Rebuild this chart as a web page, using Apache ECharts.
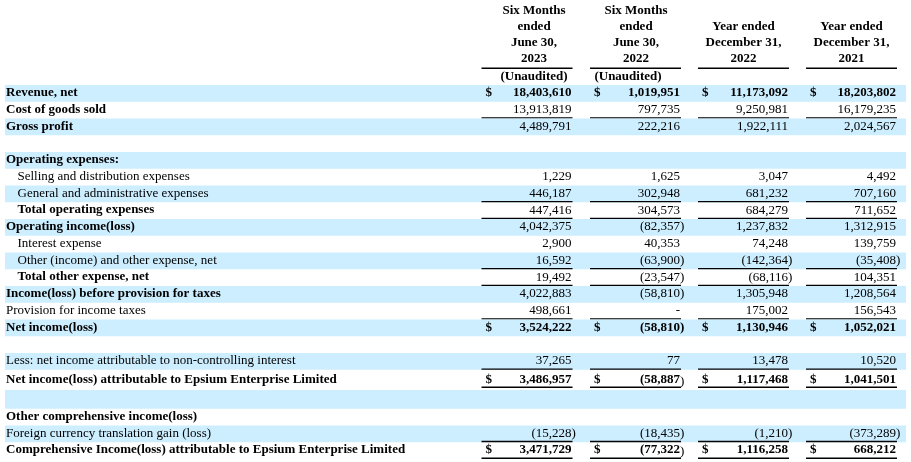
<!DOCTYPE html>
<html>
<head>
<meta charset="utf-8">
<script src="https://cdn.jsdelivr.net/npm/echarts@6/dist/echarts.min.js"></script>
<style>
  html, body { margin: 0; padding: 0; background: #fff; }
  #chart { width: 911px; height: 462px; }
</style>
</head>
<body>
<div id="chart"></div>
<script>
// statement lines
const rowLabels = [
  'Revenue, net',
  'Cost of goods sold',
  'Gross profit',
  '',
  'Operating expenses:',
  'Selling and distribution expenses',
  'General and administrative expenses',
  'Total operating expenses',
  'Operating income(loss)',
  'Interest expense',
  'Other (income) and other expense, net',
  'Total other expense, net',
  'Income(loss) before provision for taxes',
  'Provision for income taxes',
  'Net income(loss)',
  '',
  'Less: net income attributable to non-controlling interest',
  'Net income(loss) attributable to Epsium Enterprise Limited',
  '',
  'Other comprehensive income(loss)',
  'Foreign currency translation gain (loss)',
  'Comprehensive Income(loss) attributable to Epsium Enterprise Limited'
];

const columnHeaders = [
  ['Six Months', 'ended', 'June 30,', '2023'],
  ['Six Months', 'ended', 'June 30,', '2022'],
  ['Year ended', 'December 31,', '2022'],
  ['Year ended', 'December 31,', '2021']
];
const columnNotes = ['(Unaudited)', '(Unaudited)', '', ''];

// null = empty cell, 0 = dash
const sixMonths2023 = [18403610, 13913819, 4489791, null, null, 1229, 446187, 447416, 4042375, 2900, 16592, 19492, 4022883, 498661, 3524222, null, 37265, 3486957, null, null, -15228, 3471729];
const sixMonths2022 = [1019951, 797735, 222216, null, null, 1625, 302948, 304573, -82357, 40353, -63900, -23547, -58810, 0, -58810, null, 77, -58887, null, null, -18435, -77322];
const year2022 = [11173092, 9250981, 1922111, null, null, 3047, 681232, 684279, 1237832, 74248, -142364, -68116, 1305948, 175002, 1130946, null, 13478, 1117468, null, null, -1210, 1116258];
const year2021 = [18203802, 16179235, 2024567, null, null, 4492, 707160, 711652, 1312915, 139759, -35408, 104351, 1208564, 156543, 1052021, null, 10520, 1041501, null, null, -373289, 668212];
const columns = [sixMonths2023, sixMonths2022, year2022, year2021];

// formatting of the statement
const boldLabelRows = [0, 1, 2, 4, 7, 8, 11, 12, 14, 17, 19, 21];
const indentRows = [5, 6, 7, 9, 10, 11];
const totalRows = [0, 14, 17, 21];           // bold with $ sign
const ruleBelow = [0, 1, 0, 0, 0, 0, 1, 1, 0, 0, 1, 1, 0, 1, 0, 0, 1, 2, 0, 0, 1, 1];

// layout
const font = '"Liberation Serif", "Times New Roman", serif';
const bandColor = '#cceeff';
const textColor = '#000';
const tableTop = 85;
const colRight = [571.5, 680, 788, 896];
const headerCenter = [534, 636, 743.5, 851.5];
const noteCenter = [534, 628, 0, 0];

const rowHeights = rowLabels.map((_, i) =>
  16.75 + (ruleBelow[i] === 2 ? 3.4 : 0) + (ruleBelow[i - 1] === 2 ? 2 : 0));
const rowData = [];
let y = tableTop;
rowLabels.forEach((_, i) => {
  rowData.push([i, y, y + rowHeights[i]]);
  y += rowHeights[i];
});

function fmt(v) {
  if (v === 0) return '-';
  const s = Math.abs(v).toLocaleString('en-US');
  return v < 0 ? '(' + s : s;
}

function textEl(x, y, text, weight, align) {
  return {
    type: 'text', x: x, y: y,
    style: {
      text: text, fill: textColor, align: align, verticalAlign: 'middle',
      fontFamily: font, fontSize: 13, fontWeight: weight
    }
  };
}

function ruleEl(x1, x2, y) {
  return {
    type: 'line',
    shape: { x1: x1, y1: y, x2: x2, y2: y },
    style: { stroke: '#000', lineWidth: 1.4 }
  };
}

function renderRow(params, api) {
  const i = api.value(0);
  const top = api.coord([0, api.value(1)])[1];
  const bottom = api.coord([0, api.value(2)])[1];
  const X = (v) => api.coord([v, 0])[0];
  const mid = (top + bottom) / 2 - 0.5;
  const children = [];

  if (i % 2 === 0) {
    children.push({
      type: 'rect',
      shape: { x: X(5), y: top, width: X(906) - X(5), height: bottom - top },
      style: { fill: bandColor }
    });
  }

  const labelBold = boldLabelRows.indexOf(i) >= 0 ? 'bold' : 'normal';
  const labelX = indentRows.indexOf(i) >= 0 ? X(17.5) : X(6);
  if (rowLabels[i]) children.push(textEl(labelX, mid, rowLabels[i], labelBold, 'left'));

  const isTotal = totalRows.indexOf(i) >= 0;
  columns.forEach((col, c) => {
    const v = col[i];
    const right = X(colRight[c]);
    if (v !== null) {
      const w = isTotal ? 'bold' : 'normal';
      children.push(textEl(right, mid, fmt(v), w, 'right'));
      if (v < 0) {
        const loose = isTotal && ruleBelow[i] > 0;
        children.push(textEl(right, mid + (loose ? 2 : 0), ')', loose ? 'normal' : w, 'left'));
      }
      if (isTotal) children.push(textEl(right - 86, mid, '$', 'bold', 'left'));
    }
    if (ruleBelow[i] === 1) {
      children.push(ruleEl(right - 90, right + 1, bottom - 0.6));
    } else if (ruleBelow[i] === 2) {
      children.push(ruleEl(right - 90, right + 1, bottom - 2.6));
      children.push(ruleEl(right - 90, right + 1, bottom + 2.4));
    }
  });

  return { type: 'group', children: children };
}

function renderHeader(params, api) {
  const c = api.value(0);
  const X = (v) => api.coord([v, 0])[0];
  const Y = (v) => api.coord([0, v])[1];
  const lines = columnHeaders[c];
  const children = [];
  lines.forEach((t, k) => {
    const ly = 59 - (lines.length - 1 - k) * 16;
    children.push(textEl(X(headerCenter[c]), Y(ly), t, 'bold', 'center'));
  });
  children.push(ruleEl(X(colRight[c] - 90), X(colRight[c] + 1), Y(68.3)));
  if (columnNotes[c]) children.push(textEl(X(noteCenter[c]), Y(77), columnNotes[c], 'bold', 'center'));
  return { type: 'group', children: children };
}

const chart = echarts.init(document.getElementById('chart'));
chart.setOption({
  animation: false,
  backgroundColor: '#fff',
  grid: { left: 0, right: 0, top: 0, bottom: 0 },
  xAxis: { type: 'value', min: 0, max: 911, show: false },
  yAxis: { type: 'value', min: 0, max: 462, inverse: true, show: false },
  series: [
    {
      type: 'custom',
      renderItem: renderRow,
      data: rowData,
      clip: false,
      silent: true
    },
    {
      type: 'custom',
      renderItem: renderHeader,
      data: columnHeaders.map((_, c) => [c]),
      clip: false,
      silent: true
    }
  ]
});
</script>
</body>
</html>
